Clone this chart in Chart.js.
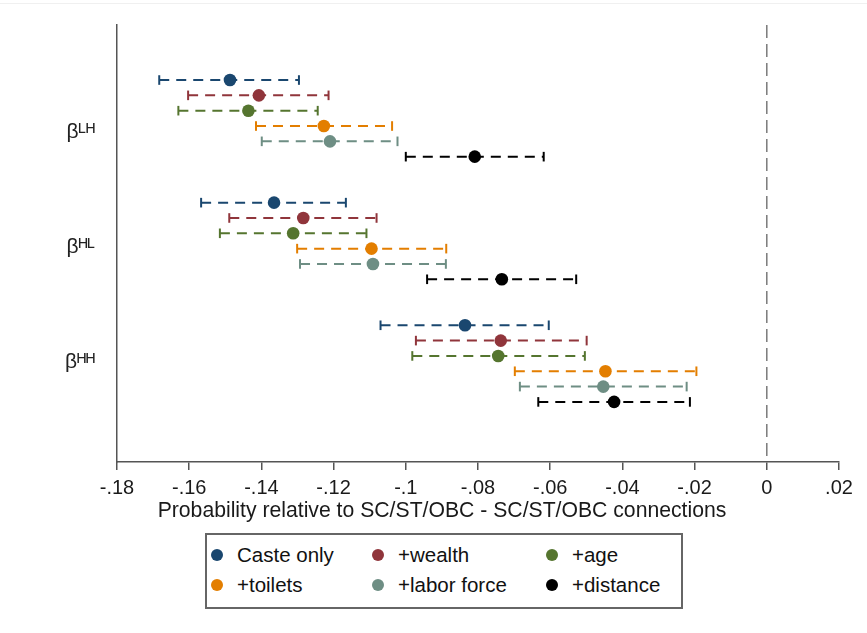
<!DOCTYPE html>
<html>
<head>
<meta charset="utf-8">
<script src="https://cdn.jsdelivr.net/npm/chart.js@4/dist/chart.umd.min.js"></script>
<style>
  html, body { margin: 0; padding: 0; background: #fff; }
  #wrap { position: relative; width: 867px; height: 633px; overflow: hidden; }
  #topline { position: absolute; left: 0; top: 3px; width: 867px; height: 1px; background: #f0f0f0; }
  #chart { position: absolute; left: 0; top: 0; }
  #xtitle {
    position: absolute; left: 142px; width: 600px; top: 497px; height: 26px; line-height: 26px;
    text-align: center; white-space: nowrap;
    font-family: 'Liberation Sans', Arial, sans-serif; font-size: 21.2px; color: #1a1a1a;
  }
  #legend {
    position: absolute; left: 205px; top: 533px; width: 470px; height: 67px;
    border: 2px solid #666; background: #fff;
    padding: 5px 0 0 4px; box-sizing: content-box;
    display: grid; grid-template-columns: 161px 174px auto; grid-auto-rows: 30px;
    font-family: 'Liberation Sans', Arial, sans-serif; font-size: 20.5px; color: #111;
  }
  #legend .item { display: flex; align-items: center; white-space: nowrap; }
  #legend .dot { width: 12px; height: 12px; border-radius: 50%; margin-right: 14px; flex: none; }
</style>
</head>
<body>
<div id="wrap">
  <div id="topline"></div>
  <canvas id="chart" width="867" height="633"></canvas>
  <div id="xtitle"></div>
  <div id="legend"></div>
</div>
<script>
// ---------------- data ----------------
const seriesNames = ['Caste only', '+wealth', '+age', '+toilets', '+labor force', '+distance'];
const groupLabels = ['β\u1D38\u1D34', 'β\u1D34\u1D38', 'β\u1D34\u1D34'];   // βLH, βHL, βHH
const xTickValues = [-0.18, -0.16, -0.14, -0.12, -0.10, -0.08, -0.06, -0.04, -0.02, 0, 0.02];
const xAxisTitle = 'Probability relative to SC/ST/OBC - SC/ST/OBC connections';

// point estimates per group (LH, HL, HH)
const estCaste    = [-0.1487, -0.1365, -0.0836];
const estWealth   = [-0.1407, -0.1284, -0.0737];
const estAge      = [-0.1436, -0.1312, -0.0744];
const estToilets  = [-0.1227, -0.1095, -0.0447];
const estLabor    = [-0.1210, -0.1091, -0.0453];
const estDistance = [-0.0809, -0.0734, -0.0423];

// lower CI bounds
const loCaste    = [-0.1683, -0.1567, -0.1070];
const loWealth   = [-0.1603, -0.1489, -0.0972];
const loAge      = [-0.1630, -0.1515, -0.0982];
const loToilets  = [-0.1415, -0.1301, -0.0698];
const loLabor    = [-0.1399, -0.1293, -0.0684];
const loDistance = [-0.1000, -0.0941, -0.0633];

// upper CI bounds
const hiCaste    = [-0.1296, -0.1166, -0.0604];
const hiWealth   = [-0.1214, -0.1081, -0.0499];
const hiAge      = [-0.1244, -0.1109, -0.0504];
const hiToilets  = [-0.1038, -0.0888, -0.0195];
const hiLabor    = [-0.1023, -0.0889, -0.0222];
const hiDistance = [-0.0618, -0.0528, -0.0213];

// ---------------- styles ----------------
const seriesColors = ['#1a476f', '#90353b', '#55752f', '#e37e00', '#6e8e84', '#000000'];
const FONT = "'Liberation Sans', Arial, sans-serif";

const series = [
  { est: estCaste,    lo: loCaste,    hi: hiCaste },
  { est: estWealth,   lo: loWealth,   hi: hiWealth },
  { est: estAge,      lo: loAge,      hi: hiAge },
  { est: estToilets,  lo: loToilets,  hi: hiToilets },
  { est: estLabor,    lo: loLabor,    hi: hiLabor },
  { est: estDistance, lo: loDistance, hi: hiDistance }
].map((s, i) => Object.assign(s, { name: seriesNames[i], color: seriesColors[i] }));

// layout of the rows on the (reversed) y axis
const ROWS_PER_GROUP = 8;
const rowPos = (g, s) => g * ROWS_PER_GROUP + s;
const labelPos = g => g * 7.5 + 3.43;
const Y_MIN = -3.59, Y_MAX = 24.92;

const datasets = [];
series.forEach((s, i) => {
  datasets.push({
    type: 'scatter', label: s.name,
    data: s.est.map((v, g) => ({ x: v, y: rowPos(g, i) })),
    backgroundColor: s.color, borderColor: s.color,
    pointRadius: 6.3, pointBorderWidth: 0, pointHoverRadius: 6.3, order: 0, clip: false
  });
});
series.forEach((s, i) => {
  s.lo.forEach((lo, g) => {
    datasets.push({
      type: 'line', label: '_ci',
      data: [{ x: lo, y: rowPos(g, i) }, { x: s.hi[g], y: rowPos(g, i) }],
      borderColor: s.color, borderWidth: 2, borderDash: [10, 7],
      pointStyle: 'line', rotation: 90, pointRadius: 4.8, pointHoverRadius: 4.8,
      pointBorderWidth: 2, pointBorderColor: s.color, fill: false, order: 1, clip: false
    });
  });
});
datasets.push({
  type: 'line', label: '_zero',
  data: [{ x: 0, y: Y_MIN }, { x: 0, y: Y_MAX }],
  borderColor: '#7a7a7a', borderWidth: 1.5, borderDash: [13, 6],
  pointRadius: 0, fill: false, order: 2
});

const fmtTick = v => {
  const s = parseFloat(Number(v).toFixed(2)).toString();
  return s.replace(/^(-?)0\./, '$1.');
};

new Chart(document.getElementById('chart'), {
  type: 'scatter',
  data: { datasets },
  options: {
    responsive: false, animation: false, devicePixelRatio: 1,
    layout: { padding: { left: 0, top: 25, right: 28, bottom: 110 } },
    plugins: { legend: { display: false }, tooltip: { enabled: false } },
    scales: {
      x: {
        type: 'linear', position: 'bottom', min: -0.18, max: 0.02,
        afterBuildTicks: sc => { sc.ticks = xTickValues.map(v => ({ value: v })); },
        afterFit: sc => { sc.height = 61; },
        ticks: { callback: v => fmtTick(v), font: { family: FONT, size: 20 }, color: '#1a1a1a',
                 padding: 6, maxRotation: 0, autoSkip: false },
        grid: { drawOnChartArea: false, drawTicks: true, tickLength: 8, color: '#555', lineWidth: 1.5 },
        border: { color: '#555', width: 1.5 },
        title: { display: false }
      },
      y: {
        type: 'linear', reverse: true, min: Y_MIN, max: Y_MAX,
        afterBuildTicks: sc => { sc.ticks = groupLabels.map((l, g) => ({ value: labelPos(g) })); },
        afterFit: sc => { sc.width = 117; sc.paddingTop = 0; sc.paddingBottom = 0; },
        ticks: { callback: (v, i) => groupLabels[i], font: { family: FONT, size: 21 }, color: '#222', padding: 22 },
        grid: { drawOnChartArea: false, drawTicks: false },
        border: { color: '#555', width: 1.5 }
      }
    }
  }
});

// x-axis title (centred under the graph like the original)
document.getElementById('xtitle').textContent = xAxisTitle;

// HTML legend built from the series
const legendEl = document.getElementById('legend');
series.forEach(s => {
  const item = document.createElement('div');
  item.className = 'item';
  const dot = document.createElement('span');
  dot.className = 'dot';
  dot.style.background = s.color;
  const txt = document.createElement('span');
  txt.textContent = s.name;
  item.appendChild(dot); item.appendChild(txt);
  legendEl.appendChild(item);
});
</script>
</body>
</html>
